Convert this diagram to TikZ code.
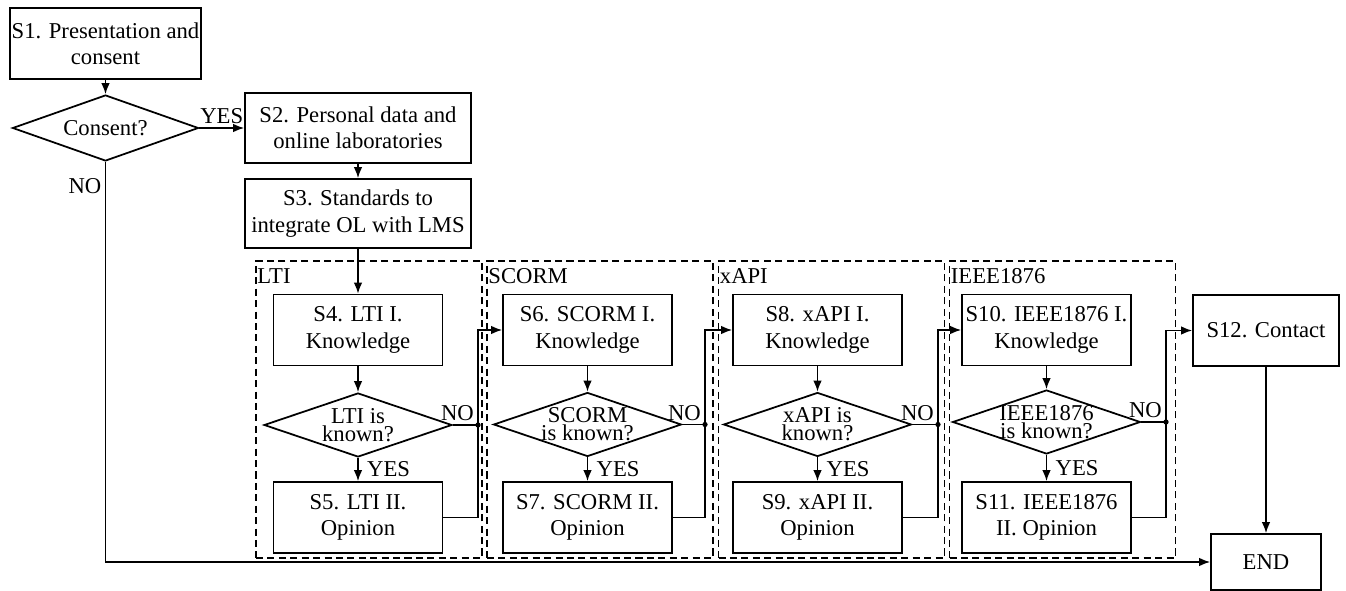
\documentclass[tikz,border=0pt]{standalone}
\usepackage{fontspec}
\setmainfont{Liberation Serif}
\usetikzlibrary{shapes.geometric,arrows.meta}

\tikzset{
	block/.style={draw, line width=1pt, align=center, minimum width=3.38cm, minimum height=1.42cm, inner sep=1pt},
	decision/.style={draw, diamond, line width=1pt, minimum width=3.76cm, minimum height=1.28cm, inner sep=0pt},
	dtext/.style={align=center, inner sep=0pt, font=\fontsize{12.9}{10.4}\selectfont},
	group/.style={draw, line width=0.8pt, dash pattern=on 4pt off 2.5pt, minimum width=4.52cm, minimum height=5.94cm, inner sep=0pt},
	gtext/.style={anchor=north west, inner sep=1pt, yshift=-3.5pt},
	tag/.style={inner sep=2pt},
	arr/.style={line width=0.8pt, -{Latex[length=2.2mm, width=1.7mm]}},
	con/.style={line width=0.8pt},
}

\begin{document}
\begin{tikzpicture}[x=0.02cm, y=-0.02cm, font=\fontsize{12.9}{15}\selectfont]
	\useasboundingbox (0,0) rectangle (1346,591);

	% start
	\node[block, minimum width=3.76cm] (s1) at (105.5,43.5) {S1. Presentation and\\consent};
	\node[decision, minimum width=3.72cm, minimum height=1.32cm, label={[dtext]center:Consent?}] (consent) at (105.5,128) {};
	\node[block, minimum width=4.52cm, minimum height=1.40cm] (s2) at (358,128) {S2. Personal data and\\online laboratories};
	\node[block, minimum width=4.52cm, minimum height=1.38cm] (s3) at (358,213.5) {S3. Standards to\\integrate OL with LMS};
	\draw[arr] (s1) -- (consent);
	\draw[arr] (consent) -- node[tag, above] {YES} (s2);
	\draw[arr] (s2) -- (s3);

	% groups
	\node[group] (gLTI) at (369,409.5) {};
	\node[gtext] at (gLTI.north west) {LTI};
	\node[group] (gSCORM) at (600,409.5) {};
	\node[gtext] at (gSCORM.north west) {SCORM};
	\node[group] (gXAPI) at (831.5,409.5) {};
	\node[gtext] at (gXAPI.north west) {xAPI};
	\node[group] (gIEEE) at (1062.5,409.5) {};
	\node[gtext] at (gIEEE.north west) {IEEE1876};

	% LTI
	\node[block] (s4) at (358,330) {S4. LTI I.\\Knowledge};
	\node[decision, label={[dtext]center:LTI is\\known?}] (d1) at (358,425) {};
	\node[block] (s5) at (358,517.5) {S5. LTI II.\\Opinion};
	\coordinate (j1) at (478,425);
	\draw[arr] (s3) -- (s4);
	\draw[arr] (s4) -- (d1);
	\draw[arr] (d1) -- node[tag, right, xshift=1mm] {YES} (s5);
	\draw[con] (d1) -- node[tag, pos=1, above left] {NO} (j1);
	\fill (j1) circle (1.5pt);

	% SCORM
	\node[block] (s6) at (587.5,330) {S6. SCORM I.\\Knowledge};
	\node[decision, label={[dtext]center:SCORM\\is known?}] (d2) at (587.5,424.5) {};
	\node[block] (s7) at (587.5,517.5) {S7. SCORM II.\\Opinion};
	\coordinate (j2) at (705,424.5);
	\draw[arr] (s5) -| (j1) |- (s6);
	\draw[arr] (s6) -- (d2);
	\draw[arr] (d2) -- node[tag, right, xshift=1mm] {YES} (s7);
	\draw[con] (d2) -- node[tag, pos=1, above left] {NO} (j2);
	\fill (j2) circle (1.5pt);

	% xAPI
	\node[block] (s8) at (817.5,330) {S8. xAPI I.\\Knowledge};
	\node[decision, label={[dtext]center:xAPI is\\known?}] (d3) at (817.5,424.5) {};
	\node[block] (s9) at (817.5,517.5) {S9. xAPI II.\\Opinion};
	\coordinate (j3) at (938,424.5);
	\draw[arr] (s7) -| (j2) |- (s8);
	\draw[arr] (s8) -- (d3);
	\draw[arr] (d3) -- node[tag, right, xshift=1mm] {YES} (s9);
	\draw[con] (d3) -- node[tag, pos=1, above left] {NO} (j3);
	\fill (j3) circle (1.5pt);

	% IEEE1876
	\node[block] (s10) at (1046.5,330) {S10. IEEE1876 I.\\Knowledge};
	\node[decision, label={[dtext]center:IEEE1876\\is known?}] (d4) at (1046.5,422) {};
	\node[block] (s11) at (1046.5,517.5) {S11. IEEE1876\\II. Opinion};
	\coordinate (j4) at (1166,422);
	\draw[arr] (s9) -| (j3) |- (s10);
	\draw[arr] (s10) -- (d4);
	\draw[arr] (d4) -- node[tag, right, xshift=1mm] {YES} (s11);
	\draw[con] (d4) -- node[tag, pos=1, above left] {NO} (j4);
	\fill (j4) circle (1.5pt);

	% end
	\node[block, minimum width=2.92cm] (s12) at (1266,330.5) {S12. Contact};
	\node[block, minimum width=2.2cm, minimum height=1.12cm] (stop) at (1266,562) {END};
	\draw[arr] (s11) -| (j4) |- (s12);
	\draw[arr] (s12) -- (stop);
	\draw[arr] (consent) |- node[tag, pos=0.03, left] {NO} (stop);
\end{tikzpicture}
\end{document}
